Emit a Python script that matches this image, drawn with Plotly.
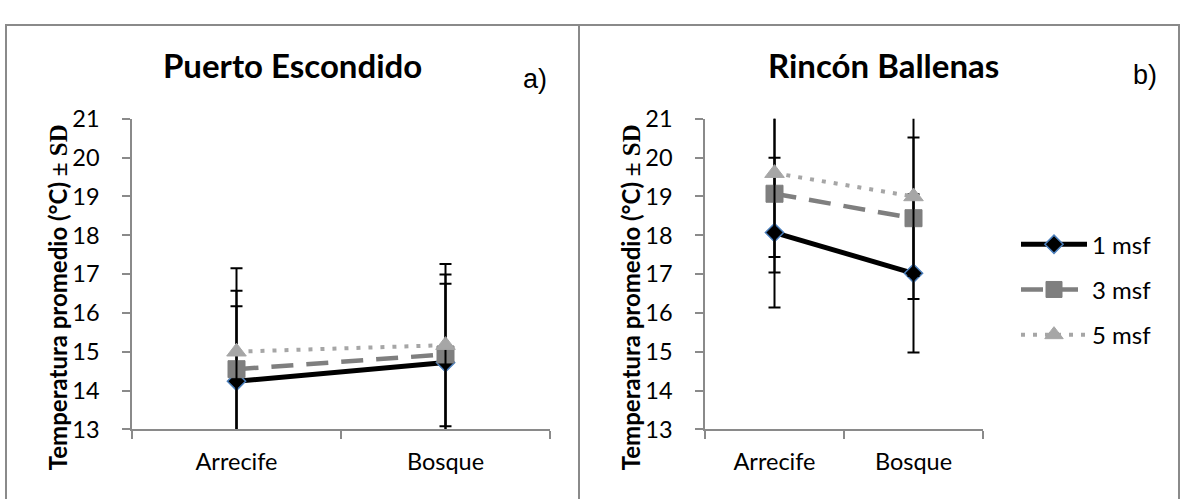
import plotly.graph_objects as go

W, H = 1182, 499

categories = ["Arrecife", "Bosque"]
series_names = ["1 msf", "3 msf", "5 msf"]
y_ticks = [13, 14, 15, 16, 17, 18, 19, 20, 21]

# Puerto Escondido (a)
pe_1 = [14.24, 14.72]
pe_3 = [14.55, 14.93]
pe_5 = [15.00, 15.17]
pe_sd_1 = [1.93, 2.03]
pe_sd_3 = [2.02, 2.06]
pe_sd_5 = [2.15, 2.09]

# Rincón Ballenas (b)
rb_1 = [18.07, 17.02]
rb_3 = [19.07, 18.44]
rb_5 = [19.60, 19.00]
rb_sd_1 = [1.93, 2.04]
rb_sd_3 = [2.03, 2.08]
rb_sd_5 = [2.16, 2.05]

FONT = "Lato"
AXIS_GRAY = "#8a8a8a"

styles = [
    dict(line=dict(color="black", width=5),
         marker=dict(symbol="diamond", size=14, color="black",
                     line=dict(color="#4a7ebb", width=1.5))),
    dict(line=dict(color="#7f7f7f", width=4.5, dash="22px,13px"),
         marker=dict(symbol="square", size=17, color="#7f7f7f",
                     line=dict(color="#7f7f7f", width=1))),
    dict(line=dict(color="#a6a6a6", width=4, dash="4px,8px"),
         marker=dict(symbol="triangle-up", size=17, color="#a6a6a6",
                     line=dict(color="#a6a6a6", width=1))),
]

fig = go.Figure()

panels = [
    ("x", "y", [pe_1, pe_3, pe_5], [pe_sd_1, pe_sd_3, pe_sd_5], False),
    ("x2", "y2", [rb_1, rb_3, rb_5], [rb_sd_1, rb_sd_3, rb_sd_5], True),
]
for xa, ya, vals, sds, show in panels:
    for i, name in enumerate(series_names):
        st = styles[i]
        fig.add_trace(go.Scatter(
            x=categories, y=vals[i], name=name, mode="lines+markers",
            xaxis=xa, yaxis=ya, showlegend=show, legendgroup=name,
            line=st["line"], marker=st["marker"],
            error_y=dict(type="data", array=sds[i], symmetric=True,
                         color="black", thickness=2, width=6),
        ))

def px_x(p):
    return p / W

def px_y(p):
    return 1 - p / H

TICK_SIZE = 23.5
ydom = [px_y(439), px_y(110)]
common_x = dict(type="category", range=[-0.5, 1.5], showline=True,
                linecolor=AXIS_GRAY, linewidth=1.5, ticks="outside",
                tickson="boundaries", ticklen=8, tickcolor=AXIS_GRAY,
                tickwidth=1.5, showgrid=False, zeroline=False,
                ticklabelstandoff=11,
                tickfont=dict(family=FONT, size=TICK_SIZE, color="black"),
                fixedrange=True)
common_y = dict(range=[13, 21], tickvals=y_ticks, showline=True,
                linecolor=AXIS_GRAY, linewidth=1.5, ticks="outside",
                ticklen=8, tickcolor=AXIS_GRAY, tickwidth=1.5,
                showgrid=False, zeroline=False, domain=ydom,
                ticklabelstandoff=18,
                tickfont=dict(family=FONT, size=TICK_SIZE, color="black"),
                fixedrange=True)

fig.update_layout(
    width=W, height=H,
    margin=dict(l=0, r=0, t=0, b=0),
    paper_bgcolor="white", plot_bgcolor="white",
    font=dict(family=FONT, color="black"),
    xaxis=dict(common_x, domain=[px_x(132), px_x(550)], anchor="y"),
    yaxis=dict(common_y, anchor="x"),
    xaxis2=dict(common_x, domain=[px_x(705), px_x(983)], anchor="y2"),
    yaxis2=dict(common_y, anchor="x2"),
    legend=dict(x=px_x(1016), y=px_y(291), xanchor="left", yanchor="middle",
                font=dict(family=FONT, size=24, color="black"),
                traceorder="grouped", tracegroupgap=11,
                bgcolor="rgba(0,0,0,0)", itemwidth=66),
    showlegend=True,
)

ytitle = ("<b>Temperatura promedio (°C) </b>"
          "<span style='font-family:Liberation Serif;font-size:25px;font-weight:bold'>± SD</span>")
annotations = [
    dict(text="<b>Puerto Escondido</b>", x=px_x(292.5), y=px_y(52.5),
         font=dict(family=FONT, size=33)),
    dict(text="<b>Rincón Ballenas</b>", x=px_x(883), y=px_y(52.5),
         font=dict(family=FONT, size=33)),
    dict(text="a)", x=px_x(535), y=px_y(67.5),
         font=dict(family="Liberation Sans", size=27)),
    dict(text="b)", x=px_x(1145), y=px_y(63.5),
         font=dict(family="Liberation Sans", size=27)),
    dict(text=ytitle, x=px_x(57), y=px_y(299), textangle=-90,
         font=dict(family=FONT, size=24)),
    dict(text=ytitle, x=px_x(630), y=px_y(299), textangle=-90,
         font=dict(family=FONT, size=24)),
]
for a in annotations:
    a.update(xref="paper", yref="paper", showarrow=False,
             xanchor="center", yanchor="middle")
fig.update_layout(annotations=annotations)

shapes = [
    dict(type="rect", xref="paper", yref="paper",
         x0=px_x(6), x1=px_x(579), y0=-0.1, y1=px_y(10.5),
         line=dict(color=AXIS_GRAY, width=2)),
    dict(type="rect", xref="paper", yref="paper",
         x0=px_x(579), x1=px_x(1179), y0=-0.1, y1=px_y(10.5),
         line=dict(color=AXIS_GRAY, width=2)),
]
fig.update_layout(shapes=shapes)

fig.write_html("out.html")
